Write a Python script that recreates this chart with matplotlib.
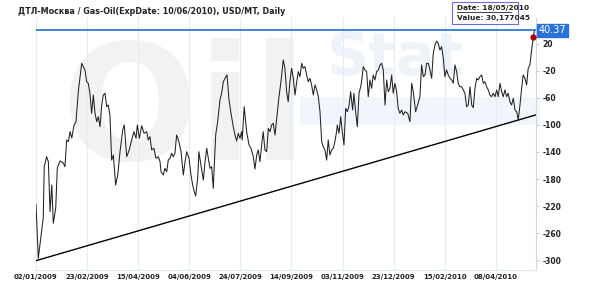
import matplotlib
matplotlib.use("Agg")
import matplotlib.pyplot as plt
import numpy as np

plt.rcParams['font.family'] = ['DejaVu Sans']

title = "ДТЛ-Москва / Gas-Oil(ExpDate: 10/06/2010), USD/MT, Daily"

# trading-day index of each sample and its value (USD/MT)
day = [0, 1.6, 5.1, 5.8, 7.5, 8.7, 9.9, 11.1, 12.2, 13.9, 15, 16.9, 19.2, 20.4, 21.6, 22.8, 24, 25.2, 26.8, 28.2,
       29.8, 32.2, 33.3, 34.5, 35.7, 36.8, 38, 39.2, 40.4, 41.6, 42.8, 43.9, 45.1, 46.3, 47.4, 48.6, 49.8, 50.9, 52.1, 53.3,
       54.5, 56.1, 57.6, 59.2, 61.1, 62.2, 63.9, 65.7, 67.4, 69, 70.5, 71.4, 72.8, 74.5, 76.1, 78, 79.1, 80.3, 81.5, 83.1,
       84.5, 86.2, 87.4, 88.1, 89.7, 90.9, 92.1, 93.2, 94.4, 95.6, 96.7, 97.9, 99.1, 100.7, 102.2, 103.8, 105, 106.2, 107.8, 109.2,
       110.4, 111.5, 112.5, 113.9, 114.8, 116.2, 117.9, 119.1, 120.3, 121.4, 122.6, 123.8, 124.9, 126.6, 128, 129.6, 130.8, 132, 133.2, 134.6,
       136, 137.4, 139, 140.2, 141.4, 142.5, 143.7, 144.9, 145.3, 146.7, 148.4, 150.1, 151.5, 153.1, 154.3, 155.5, 156.6, 157.8, 159, 160.1,
       161.3, 162.5, 163.7, 164.9, 166, 167.2, 168.4, 169.6, 171.2, 172.6, 174.2, 175.4, 176.6, 177.7, 178.9, 180.1, 181.3, 182.5, 183.7, 184.8,
       186, 187.2, 188.3, 189.5, 190.7, 191.8, 193, 194.2, 195.4, 196.6, 197.8, 198.9, 200.1, 201.3, 202.4, 203.6, 204.8, 205.9, 207.1, 208.3,
       209.5, 210.6, 211.8, 212.3, 213.5, 214.7, 215.8, 217, 218.2, 219.3, 220.5, 221.7, 223.1, 224, 225.2, 226.4, 227.6, 228.8, 229.7, 230.6,
       231.8, 233, 234.1, 235.3, 236.5, 237.6, 238.8, 240, 241.2, 242.4, 243.5, 244.7, 245.9, 247.1, 248.2, 249.4, 250.6, 251.7, 252.9, 254.1,
       255.2, 256.4, 257.6, 258.8, 260, 261.9, 263.5, 264.7, 265.8, 267.5, 268.9, 270.5, 271.7, 272.9, 274.1, 275.2, 276.4, 277.6, 278.8, 279.9,
       281.1, 282.3, 283.4, 284.6, 285.8, 287, 288.1, 289.3, 290.5, 291.7, 292.9, 294, 295.2, 296.4, 297.5, 298.7, 299.9, 301.1, 302.2, 303.4,
       304.6, 305.8, 307, 308.1, 309.3, 310.5, 311.6, 312.8, 314, 315.2, 316.3, 317.5, 318.7, 319.8, 321, 322.2, 323.4, 324.6, 325.7, 326.9,
       328.1, 329.2, 330.4, 331.6, 332.7, 333.9, 335.1, 336.3, 337.5, 338.7, 339.8, 341, 342.2, 343.3, 344.5, 345.7, 346.8, 348, 349.2, 350.4,
       351.2]

price = [-217.5, -297.5, -237.8, -161.8, -147, -154.4, -228.4, -188.9, -245.6, -223, -163.7, -153.3, -156.3, -161.8, -122.2, -124.7, -109.9, -119.3, -100, -95.1,
         -50.7, -8.6, -13.6, -18.5, -35.9, -38.2, -53, -82.7, -55.6, -82.7, -95.1, -87.7, -102.5, -70.4, -55.6, -53, -72.9, -70.4, -85.2, -151.9,
         -144.4, -188.9, -174.1, -139.6, -107.4, -100, -147, -137, -122.2, -109.9, -119.7, -100, -119.7, -101, -112.3, -109.9, -122.2, -117.3, -137, -134.5,
         -149.3, -147, -154.4, -169.2, -174.1, -164.2, -169.2, -151.9, -149.3, -141.9, -147, -141.9, -114.8, -124.7, -139.6, -174.1, -154.4, -139.6, -149.3, -174.1,
         -188.9, -198.8, -205.2, -179, -139.6, -159.3, -181.5, -154.4, -134.5, -149.3, -164.2, -161.8, -193.8, -114.8, -95.1, -63, -53, -35.9, -30.8, -25.9,
         -63, -82.7, -102.5, -114.8, -123.7, -112.3, -119.7, -109.9, -122.2, -72.9, -109.9, -129.6, -134.5, -147, -165.2, -144.4, -137, -154.4, -129.6, -109.9,
         -137, -139.6, -104.9, -109.9, -100, -97.5, -114.8, -90.1, -58.1, -35.9, -3.7, -16, -50.7, -65.5, -35.9, -16, -30.8, -55.6, -35.9, -21,
         -28.4, -8.6, -16, -13.6, -25.9, -35.9, -30.8, -40.7, -55.6, -40.7, -48.1, -58.1, -80.3, -124.7, -132.1, -137, -151.9, -122.2, -144.4, -137,
         -134.5, -124.7, -109.9, -100, -112.3, -87.7, -109.9, -129.6, -75.3, -80.3, -72.9, -50.7, -77.8, -53, -80.3, -102.5, -53, -43.3, -30.8, -13.6,
         -18.5, -21, -58.1, -33.3, -45.6, -25.9, -33.3, -21, -18.5, -11.1, -8.6, -18.5, -70.4, -33.3, -50.7, -45.6, -25.9, -53, -38.2, -50.7,
         -75.3, -82.7, -77.8, -85.2, -80.3, -82.7, -95.1, -38.2, -50.7, -80.3, -70.4, -58.1, -11.1, -28.4, -25.9, -8.6, -8.6, -18.5, -30.8, 6.2,
         18.5, 24.4, 21, 11.1, 16, -1.2, -28.4, -18.5, -25.9, -30.8, -33.3, -38.2, -11.1, -21, -38.2, -43.3, -43.3, -48.1, -53, -72.9,
         -70.4, -43.3, -70.4, -74.4, -45.6, -30.8, -33.3, -28.4, -25.9, -38.2, -35.9, -43.3, -48.1, -55.6, -58.1, -53, -58.1, -48.1, -58.1, -38.2,
         -50.7, -58.1, -48.1, -58.1, -53, -65.5, -70.4, -60.4, -77.8, -80.3, -92.6, -70.4, -45.6, -25.9, -30.8, -40.7, -16, -11.1, 11.1, 30.18,
         40.37]

trend_day = [0, 352.3]
trend_val = [-301, -85]

tick_day = [0, 36, 72, 108, 144, 180, 216, 252, 288, 324]
tick_labels = ["02/01/2009", "23/02/2009", "15/04/2009", "04/06/2009", "24/07/2009",
               "14/09/2009", "03/11/2009", "23/12/2009", "15/02/2010", "08/04/2010"]
y_ticks = [20, -20, -60, -100, -140, -180, -220, -260, -300]

last_value = 40.37
sel_day = 350.4
sel_value = 30.18
sel_date = "18/05/2010"
sel_value_text = "30,177045"

W, H = 590, 290
fig = plt.figure(figsize=(W / 100, H / 100), dpi=100)
ax = fig.add_axes([36 / W, 1 - 270 / H, 500 / W, 252 / H])
ax.set_zorder(2)
ax.set_xlim(0, 352.3)
ax.set_ylim(-314.8, 58.5)

# faint watermark (behind the axes)
fig.patches.append(plt.Rectangle((300 / W, 1 - 125 / H), 240 / W, 28 / H, transform=fig.transFigure,
                                 fc='#f1f6fc', ec='none', zorder=0))
fig.text(185 / W, 1 - 115 / H, "Oil", fontsize=115, fontweight='bold', color='#f2f2f2',
         ha='center', va='center', zorder=0.5)
fig.text(395 / W, 1 - 58 / H, "Stat", fontsize=42, fontweight='bold', color='#eef3fa',
         ha='center', va='center', zorder=0.5)
ax.patch.set_alpha(0)

ax.set_xticks(tick_day)
ax.set_xticklabels(tick_labels)
ax.grid(axis='x', color='#e3edf7', lw=0.8)
ax.set_axisbelow(True)

ax.yaxis.tick_right()
ax.set_yticks(y_ticks)
ax.set_yticklabels([str(v) for v in y_ticks])
ax.tick_params(axis='y', length=2.5, width=0.6, color='#b9cbe0', labelsize=5.5, pad=2)
ax.tick_params(axis='x', length=0, labelsize=5.0, pad=3)
for lab in ax.get_xticklabels() + ax.get_yticklabels():
    lab.set_fontweight('bold')
    lab.set_color('#222222')

for s in ['top', 'left']:
    ax.spines[s].set_visible(False)
ax.spines['right'].set_color('#c9d9ea')
ax.spines['bottom'].set_color('#dde8f3')
ax.spines['right'].set_linewidth(0.8)

ax.plot(day, price, color='#222222', lw=0.75, zorder=3)
ax.plot(trend_day, trend_val, color='black', lw=1.0, zorder=3)
ax.axhline(last_value, color='#1f6fd6', lw=1.2, zorder=4)
ax.plot([sel_day], [sel_value], 'o', color='#aa0000', ms=3.5, zorder=5)

ax.text(1.005, last_value, f"{last_value:.2f}", transform=ax.get_yaxis_transform(),
        ha='left', va='center', fontsize=7, color='white',
        bbox=dict(boxstyle='square,pad=0.15', fc='#2b72d8', ec='#2b72d8'), zorder=6)

# tooltip
fig.patches.append(plt.Rectangle((452 / W, 1 - 23.5 / H), 66 / W, 21.5 / H, transform=fig.transFigure,
                                 fc='white', ec='#6a6ad8', lw=0.8, zorder=7))
fig.text(457 / W, 1 - 8 / H, f"Date: {sel_date}", fontsize=5.3, fontweight='bold', color='#222222',
         va='center', ha='left', zorder=8)
fig.lines.append(plt.Line2D([457 / W, 511 / W], [1 - 11.5 / H, 1 - 11.5 / H], transform=fig.transFigure,
                            color='#222222', lw=0.6, zorder=8))
fig.text(457 / W, 1 - 18 / H, f"Value: {sel_value_text}", fontsize=5.3, fontweight='bold', color='#222222',
         va='center', ha='left', zorder=8)

fig.text(18 / W, 1 - 12 / H, title, fontsize=5.8, fontweight='bold', color='#222222', va='center', ha='left')

fig.savefig("out.png", dpi=100)
